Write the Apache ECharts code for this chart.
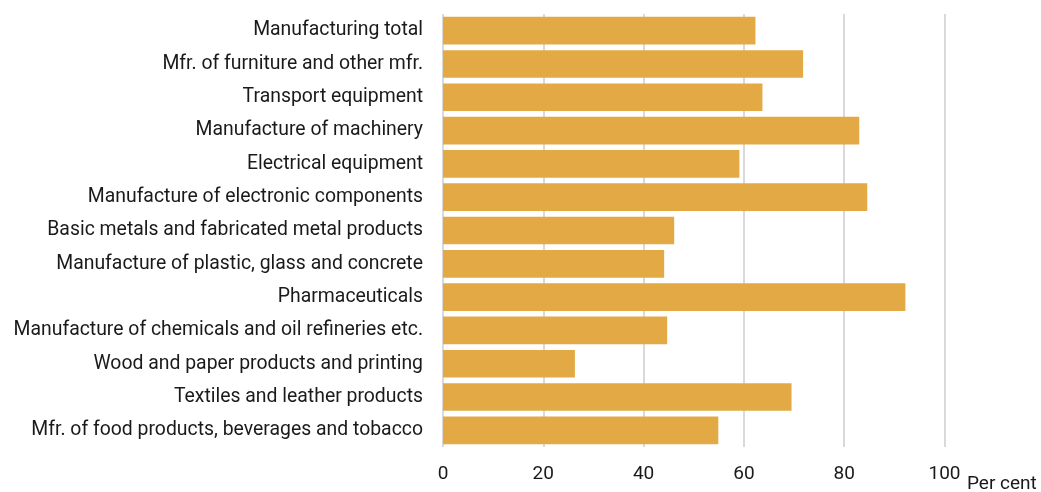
<!DOCTYPE html>
<html><head><meta charset="utf-8">
<script src="https://cdn.jsdelivr.net/npm/echarts@6/dist/echarts.min.js"></script>
<style>html,body{margin:0;padding:0;background:#fff}#c{width:1041px;height:492px}</style>
</head><body><div id="c"></div>
<script>
const categories = [
  "Mfr. of food products, beverages and tobacco",
  "Textiles and leather products",
  "Wood and paper products and printing",
  "Manufacture of chemicals and oil refineries etc.",
  "Pharmaceuticals",
  "Manufacture of plastic, glass and concrete",
  "Basic metals and fabricated metal products",
  "Manufacture of electronic components",
  "Electrical equipment",
  "Manufacture of machinery",
  "Transport equipment",
  "Mfr. of furniture and other mfr.",
  "Manufacturing total"
];
const values = [54.9, 69.5, 26.3, 44.7, 92.2, 44.1, 46.1, 84.6, 59.1, 83.0, 63.7, 71.8, 62.3];
const xTicks = [0, 20, 40, 60, 80, 100];
const unitLabel = 'Per cent';
const font = "Roboto, 'Open Sans', sans-serif";
const chart = echarts.init(document.getElementById('c'), null, {renderer: 'canvas'});
chart.setOption({
  animation: false,
  grid: {left: 443, right: 96.5, top: 14, bottom: 45, containLabel: false},
  xAxis: {
    type: 'value', min: 0, max: 100, interval: 20,
    axisLine: {show: false}, axisTick: {show: false},
    axisLabel: {color: '#1a1a1a', fontSize: 19, fontFamily: font, margin: 18,
      formatter: v => xTicks.includes(v) ? String(v) : ''},
    splitLine: {show: true, lineStyle: {color: '#d9d9d9', width: 2}}
  },
  yAxis: {
    type: 'category', data: categories,
    axisLine: {show: false}, axisTick: {show: false},
    axisLabel: {color: '#1a1a1a', fontSize: 19.4, fontFamily: font, margin: 20}
  },
  graphic: [{
    type: 'text', left: 967, top: 475,
    style: {text: unitLabel, fill: '#1a1a1a', fontSize: 19, fontFamily: font}
  }],
  series: [{
    type: 'bar', data: values, barCategoryGap: '17%',
    itemStyle: {color: '#E3A945'}
  }]
});
</script></body></html>
